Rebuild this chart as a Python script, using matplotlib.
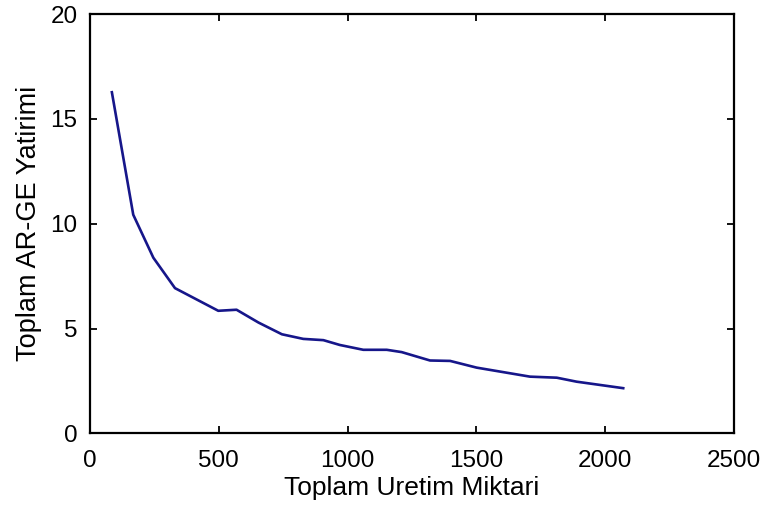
import matplotlib
matplotlib.use("Agg")
import matplotlib.pyplot as plt

# === Daten ===
uretim = [85, 168, 246, 330, 498, 569, 654, 745, 828, 906, 970, 1061, 1152,
          1210, 1320, 1398, 1501, 1708, 1812, 1889, 2070]
yatirim = [16.27, 10.43, 8.38, 6.93, 5.85, 5.9, 5.29, 4.73, 4.51, 4.45, 4.22,
           3.99, 3.99, 3.88, 3.48, 3.46, 3.14, 2.71, 2.66, 2.47, 2.16]

x_ticks = [0, 500, 1000, 1500, 2000, 2500]
y_ticks = [0, 5, 10, 15, 20]

plt.rcParams['font.family'] = ['Liberation Sans', 'DejaVu Sans']

fig = plt.figure(figsize=(7.71, 5.13), dpi=100)
ax = fig.add_axes([0.1167, 0.155, 0.8353, 0.8177])

ax.plot(uretim, yatirim, color='#16168a', linewidth=1.9)

ax.set_xlim(0, 2500)
ax.set_ylim(0, 20)
ax.set_xticks(x_ticks)
ax.set_yticks(y_ticks)
ax.tick_params(direction='in', length=5, width=1.3, labelsize=17.5,
               top=True, right=True)
ax.tick_params(axis='x', pad=12)
ax.tick_params(axis='y', pad=9)
for s in ax.spines.values():
    s.set_linewidth(1.6)

ax.set_xlabel('Toplam Uretim Miktari', fontsize=19, labelpad=3)
ax.set_ylabel('Toplam AR-GE Yatirimi', fontsize=19.5, labelpad=6)

fig.savefig('out.png', dpi=100)
